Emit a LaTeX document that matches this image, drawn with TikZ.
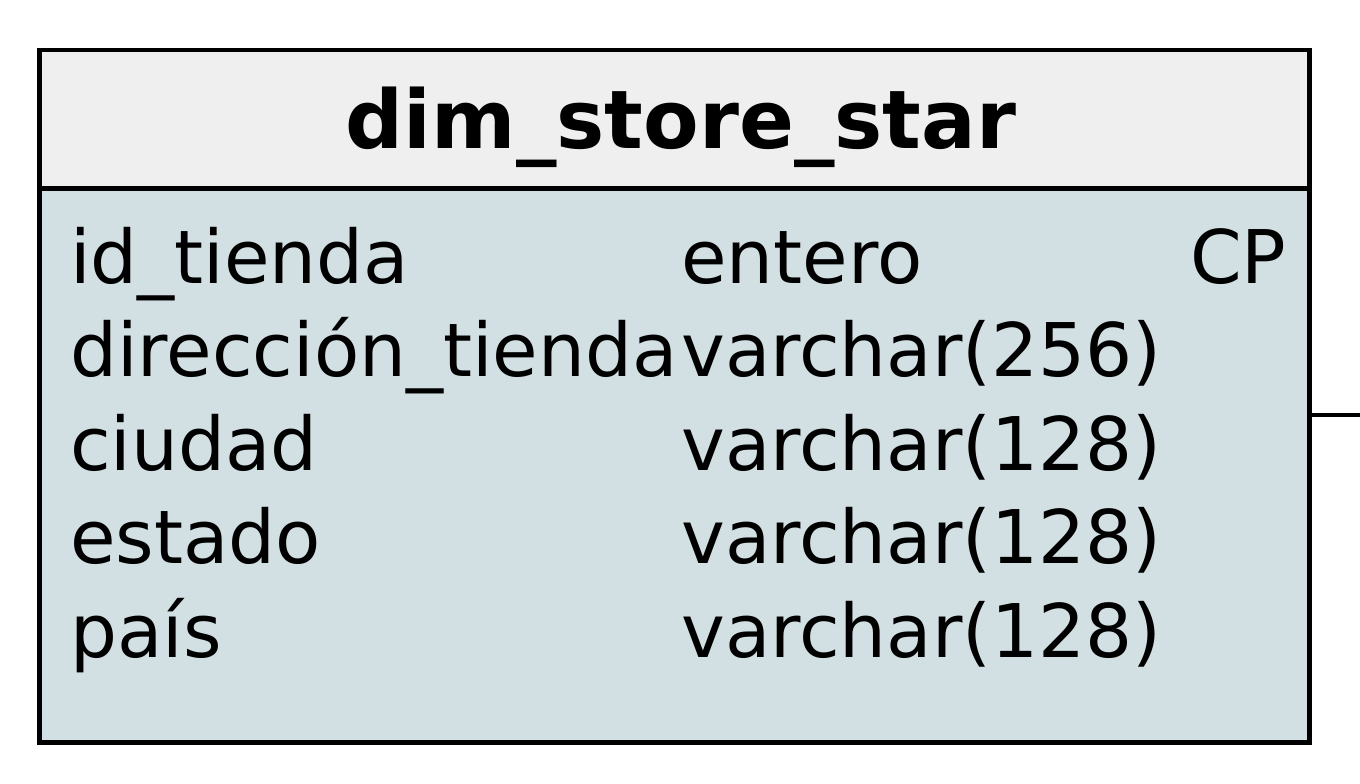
\documentclass[tikz,border=0pt]{standalone}
\usepackage{fontspec}
\setmainfont{DejaVu Sans}
\definecolor{hdrfill}{HTML}{EFEFEF}
\definecolor{bodyfill}{HTML}{D2E0E4}
\begin{document}
\begin{tikzpicture}[x=1pt,y=-1pt,
  boxline/.style={draw=black,line width=4.5pt},
  fieldtxt/.style={anchor=base west,inner sep=0pt,font=\fontsize{74}{80}\selectfont},
  titletxt/.style={anchor=base,inner sep=0pt,font=\fontsize{81}{88}\selectfont\bfseries},
  conn/.style={draw=black,line width=3.5pt}]
\useasboundingbox (0,0) rectangle (1360,784);
\fill[white] (0,0) rectangle (1360,784);
\node[boxline,fill=hdrfill,minimum width=1270pt,minimum height=138pt,inner sep=0pt,anchor=north west] (hdr) at (37,48) {};
\node[boxline,fill=bodyfill,minimum width=1270pt,minimum height=554pt,inner sep=0pt,anchor=north west] (body) at (37,186) {};
\node[titletxt] (title) at (681,148) {dim\_store\_star};
\node[fieldtxt] (n1) at (70,283) {id\_tienda};
\node[fieldtxt] (t1) at (681,283) {entero};
\node[fieldtxt] (k1) at (1190,283) {CP};
\node[fieldtxt] (n2) at (70,376) {dirección\_tienda};
\node[fieldtxt] (t2) at (681,376) {varchar(256)};
\node[fieldtxt] (n3) at (70,470) {ciudad};
\node[fieldtxt] (t3) at (681,470) {varchar(128)};
\node[fieldtxt] (n4) at (70,563) {estado};
\node[fieldtxt] (t4) at (681,563) {varchar(128)};
\node[fieldtxt] (n5) at (70,657) {país};
\node[fieldtxt] (t5) at (681,657) {varchar(128)};
\coordinate (cend) at (1360,415);
\draw[conn] (body.east |- cend) -- (cend);
\end{tikzpicture}
\end{document}
